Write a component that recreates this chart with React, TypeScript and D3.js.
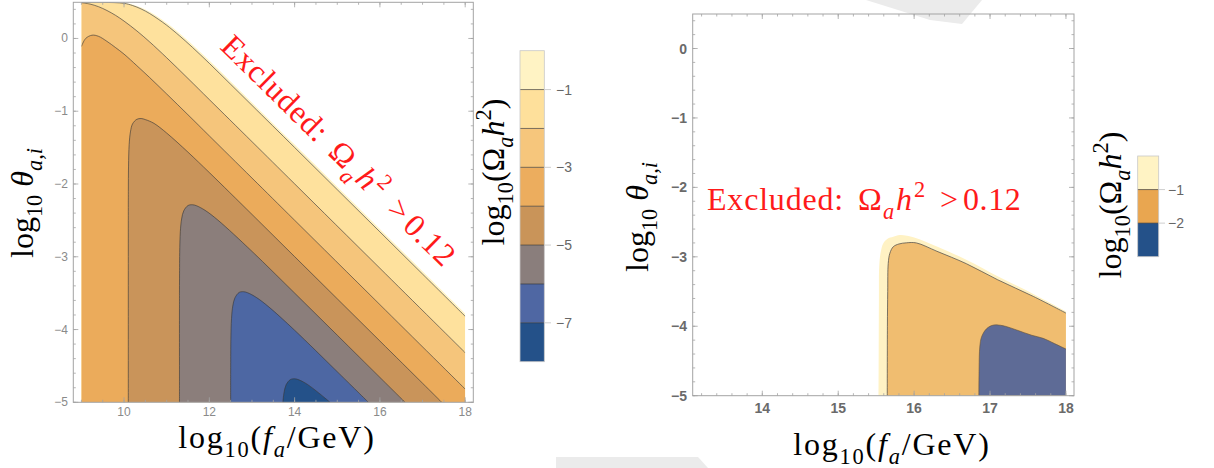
import React from 'react';
import * as d3 from 'd3';

type Pt = [number, number];

// ---------- Left panel: contour lines  [log10(fa/GeV), log10(theta_a,i)] ----------
const leftExcludedEdge: Pt[] = [[9,0.497],[9.5,0.4965],[10,0.489],[10.2,0.467],[10.4,0.424],[10.6,0.366],[10.8,0.295],[11,0.212],[11.3,0.072],[11.6,-0.083],[12,-0.304],[12.5,-0.59],[13,-0.879],[14,-1.458],[15,-2.038],[16,-2.618],[17,-3.198],[18,-3.778]];
const leftLevelM1: Pt[] = [[9,0.4968],[9.5,0.496],[10,0.483],[10.2,0.453],[10.4,0.406],[10.6,0.343],[10.8,0.266],[11,0.182],[11.3,0.037],[11.6,-0.12],[12,-0.342],[12.5,-0.63],[13,-0.919],[14,-1.498],[15,-2.078],[16,-2.658],[17,-3.238],[18,-3.818]];
const leftLevelM2: Pt[] = [[9,0.492],[9.2,0.473],[9.4,0.437],[9.6,0.384],[9.8,0.318],[10,0.239],[10.3,0.104],[10.6,-0.047],[11,-0.265],[11.5,-0.55],[12,-0.84],[13,-1.418],[14,-1.998],[16,-3.158],[18,-4.318]];
const leftLevelM3: Pt[] = [[9,-0.11],[9.1,0.0],[9.25,0.045],[9.4,0.03],[9.6,-0.04],[9.8,-0.125],[10,-0.215],[10.3,-0.374],[10.6,-0.537],[11,-0.763],[11.5,-1.049],[12,-1.339],[13,-1.918],[14,-2.498],[16,-3.658],[18,-4.818]];
const leftLevelM4: Pt[] = [[10.1,-5],[10.1,-2.5],[10.101,-2.1],[10.105,-1.754],[10.12,-1.46],[10.15,-1.284],[10.2,-1.173],[10.3,-1.111],[10.4,-1.1],[10.5,-1.115],[10.7,-1.166],[11,-1.3],[11.5,-1.563],[12,-1.843],[13,-2.418],[14,-2.998],[15,-3.578],[16,-4.158],[17,-4.738],[17.45,-5]];
const leftLevelM5: Pt[] = [[11.3,-5],[11.3,-3.5],[11.302,-3.15],[11.305,-2.944],[11.32,-2.655],[11.35,-2.48],[11.4,-2.369],[11.5,-2.296],[11.6,-2.285],[11.7,-2.299],[11.9,-2.362],[12.2,-2.496],[13,-2.926],[14,-3.499],[15,-4.078],[16,-4.658],[16.59,-5]];
const leftLevelM6: Pt[] = [[12.5,-5],[12.5,-4.6],[12.501,-4.49],[12.505,-4.14],[12.52,-3.851],[12.55,-3.676],[12.6,-3.565],[12.7,-3.49],[12.8,-3.48],[12.9,-3.495],[13.1,-3.558],[13.4,-3.692],[14,-4.01],[15,-4.58],[15.73,-5]];
const leftLevelM7: Pt[] = [[13.725,-5],[13.735,-4.938],[13.75,-4.872],[13.8,-4.76],[13.9,-4.688],[14,-4.677],[14.1,-4.691],[14.3,-4.754],[14.6,-4.888],[14.83,-5]];

const leftBandColors = ['#FFF3C4', '#FEE19D', '#F5C57B', '#EBAB5B', '#C9945A', '#8B7E7B', '#4D67A3', '#245189'];
const leftLegendColors = ['#FFF3C4', '#FEE09B', '#F6C67C', '#ECAD5E', '#C99459', '#8A7E7C', '#4F67A3', '#245189'];
const leftLegendTicks = [-1, -3, -5, -7];
const leftXTicks = [10, 12, 14, 16, 18];
const leftYTicks = [0, -1, -2, -3, -4, -5];

// ---------- Right panel ----------
const rightPaleEdge: Pt[] = [[15.533,-5],[15.536,-3.6],[15.54,-3.14],[15.56,-2.93],[15.593,-2.807],[15.65,-2.74],[15.725,-2.711],[15.813,-2.687],[16.0,-2.72],[16.3,-2.85],[16.7,-3.05],[17.1,-3.28],[17.57,-3.535],[18,-3.785]];
const rightLevelM1: Pt[] = [[15.646,-5],[15.648,-4],[15.652,-3.5],[15.659,-3.094],[15.68,-2.95],[15.725,-2.855],[15.8,-2.815],[15.9,-2.798],[16.03,-2.8],[16.3,-2.92],[16.69,-3.1],[17.1,-3.33],[17.57,-3.57],[18,-3.81]];
const rightLevelM2: Pt[] = [[16.853,-5],[16.856,-4.6],[16.865,-4.3],[16.889,-4.151],[16.95,-4.04],[17.02,-3.99],[17.087,-3.98],[17.2,-4.0],[17.35,-4.054],[17.55,-4.13],[17.7,-4.174],[17.85,-4.25],[18,-4.328]];
const rightFillColors = ['#FFF2C4', '#F0BD70', '#5E6B96'];
const rightLegendColors = ['#FFF3C4', '#E9A650', '#245189'];
const rightLegendTicks = [-1, -2];
const rightXTicks = [14, 15, 16, 17, 18];
const rightYTicks = [0, -1, -2, -3, -4, -5];

const serif = "'Liberation Serif','DejaVu Serif','Times New Roman',serif";
const sans = "'Liberation Sans',Arial,'DejaVu Sans',sans-serif";
const minus = (v: number) => (v < 0 ? '\u2212' + Math.abs(v) : String(v));

type Seg = { t: string; k?: 'n' | 'i' | 'sub' | 'subi' | 'sup'; x?: number; ls?: number };

function MathText(props: { x?: number; y?: number; size: number; segs: Seg[]; anchor?: string; fill?: string; ls?: number }) {
  const { x = 0, y = 0, size, segs, anchor = 'start', fill = '#000', ls } = props;
  let shift = 0;
  return (
    <text x={x} y={y} fontSize={size} fontFamily={serif} fill={fill} textAnchor={anchor as any} letterSpacing={ls}>
      {segs.map((s, i) => {
        const k = s.k ?? 'n';
        const small = k === 'sub' || k === 'subi' || k === 'sup';
        const target = k === 'sub' || k === 'subi' ? size * 0.28 : k === 'sup' ? -size * 0.42 : 0;
        const dy = target - shift;
        shift = target;
        return (
          <tspan key={i} x={s.x} dy={dy !== 0 ? dy : undefined} fontSize={small ? size * 0.7 : size}
            letterSpacing={s.ls} fontStyle={k === 'i' || k === 'subi' ? 'italic' : 'normal'}>{s.t}</tspan>
        );
      })}
    </text>
  );
}

const faTitle: Seg[] = [{ t: 'log' }, { t: '10', k: 'sub' }, { t: '(' }, { t: 'f', k: 'i' }, { t: 'a', k: 'subi' }, { t: '/GeV)' }];
const thetaTitle: Seg[] = [{ t: 'log' }, { t: '10', k: 'sub' }, { t: '\u00a0' }, { t: '\u03b8', k: 'i' }, { t: 'a,i', k: 'subi' }];
const omegaTitle: Seg[] = [{ t: 'log' }, { t: '10', k: 'sub' }, { t: '(\u03a9' }, { t: 'a', k: 'subi' }, { t: 'h', k: 'i' }, { t: '2', k: 'sup' }, { t: ')' }];
const excludedSegs: Seg[] = [
  { t: 'Excluded:', x: 0, ls: 0.8 }, { t: '\u03a9', x: 151 }, { t: 'a', k: 'subi', x: 176 }, { t: 'h', k: 'i', x: 189 },
  { t: '2', k: 'sup', x: 207 }, { t: '>', x: 233 }, { t: '0.12', x: 256, ls: 0.6 },
];

function Frame(props: { xs: any; ys: any; xMajor: number[]; xMinor: number[]; yMajor: number[]; yMinor: number[] }) {
  const { xs, ys, xMajor, xMinor, yMajor, yMinor } = props;
  const [x0, x1] = xs.range();
  const [y0, y1] = ys.range(); // y0 bottom, y1 top
  const c = '#a3a3a3';
  const els: React.ReactNode[] = [];
  const vt = (v: number, len: number, key: string) => {
    const px = xs(v);
    els.push(<line key={key + 'b'} x1={px} x2={px} y1={y0} y2={y0 - len} stroke={c} strokeWidth={0.8} />);
    els.push(<line key={key + 't'} x1={px} x2={px} y1={y1} y2={y1 + len} stroke={c} strokeWidth={0.8} />);
  };
  const ht = (v: number, len: number, key: string) => {
    const py = ys(v);
    els.push(<line key={key + 'l'} x1={x0} x2={x0 + len} y1={py} y2={py} stroke={c} strokeWidth={0.8} />);
    els.push(<line key={key + 'r'} x1={x1} x2={x1 - len} y1={py} y2={py} stroke={c} strokeWidth={0.8} />);
  };
  xMinor.forEach((v, i) => vt(v, 2.5, 'xm' + i));
  xMajor.forEach((v, i) => vt(v, 5, 'xM' + i));
  yMinor.forEach((v, i) => ht(v, 2.5, 'ym' + i));
  yMajor.forEach((v, i) => ht(v, 5, 'yM' + i));
  return (
    <g>
      {els}
      <rect x={x0} y={y1} width={x1 - x0} height={y0 - y1} fill="none" stroke={c} strokeWidth={1} />
    </g>
  );
}

export default function App() {
  // ----- left panel scales -----
  const lx = d3.scaleLinear().domain([8.81, 18.19]).range([73.3, 473.3]);
  const ly = d3.scaleLinear().domain([-5, 0.497]).range([402.3, 2.3]);
  const lLine = d3.line<Pt>().x(d => lx(d[0])).y(d => ly(d[1])).curve(d3.curveCatmullRom.alpha(0.5));
  const edgeArea = (pts: Pt[]) => (lLine(pts) as string) + `L${lx(18)},${ly(-5)}L${lx(9)},${ly(-5)}Z`;
  const closedArea = (pts: Pt[]) => (lLine(pts) as string) + 'Z';

  const leftEdgeCurves = [leftExcludedEdge, leftLevelM1, leftLevelM2, leftLevelM3];
  const leftClosedCurves = [leftLevelM4, leftLevelM5, leftLevelM6, leftLevelM7];
  const leftLines = [leftLevelM1, leftLevelM2, leftLevelM3, leftLevelM4, leftLevelM5, leftLevelM6, leftLevelM7];

  // ----- right panel scales -----
  const rx = d3.scaleLinear().domain([13.083, 18.106]).range([692.7, 1074]);
  const ry = d3.scaleLinear().domain([-5, 0.497]).range([395.7, 14]);
  const rLine = d3.line<Pt>().x(d => rx(d[0])).y(d => ry(d[1])).curve(d3.curveCatmullRom.alpha(0.5));
  const rArea = (pts: Pt[]) => (rLine(pts) as string) + `L${rx(18)},${ry(-5)}Z`;

  // ----- legends -----
  const lLeg = d3.scaleLinear().domain([0, -8]).range([50.7, 361.7]);
  const rLeg = d3.scaleLinear().domain([0, -3]).range([156, 256.7]);

  const range = (a: number, b: number, s: number) => d3.range(Math.round(a / s), Math.round(b / s) + 1).map(k => +(k * s).toFixed(4));

  return (
    <svg width={1214} height={468} style={{ position: 'absolute', left: 0, top: 0, background: '#fff' }}
      xmlns="http://www.w3.org/2000/svg">
      <defs>
        <clipPath id="clipL"><rect x={lx(9)} y={ly(0.497)} width={lx(18) - lx(9)} height={ly(-5) - ly(0.497)} /></clipPath>
        <clipPath id="clipR"><rect x={rx(13.2)} y={ry(0.497)} width={rx(18) - rx(13.2)} height={ry(-5) - ry(0.497)} /></clipPath>
      </defs>

      {/* screenshot artifacts (light grey shapes) */}
      <path d="M866,0 L982,0 L962,24 L930,20 Z" fill="#ebebeb" />
      <path d="M556,457 L698,457 L708,468 L556,468 Z" fill="#ebebeb" />

      {/* ===== Left panel ===== */}
      <g clipPath="url(#clipL)">
        {leftEdgeCurves.map((c, i) => <path key={'le' + i} d={edgeArea(c)} fill={leftBandColors[i]} />)}
        {leftClosedCurves.map((c, i) => <path key={'lc' + i} d={closedArea(c)} fill={leftBandColors[i + 4]} />)}
        {leftLines.map((c, i) => <path key={'ll' + i} d={lLine(c) as string} fill="none" stroke="#3a3a3a" strokeOpacity={0.7} strokeWidth={0.9} />)}
      </g>
      <Frame xs={lx} ys={ly} xMajor={leftXTicks} xMinor={range(9, 18, 0.5)} yMajor={leftYTicks} yMinor={range(-5, 0.4, 0.2)} />
      {leftYTicks.map(v => (
        <text key={'lyt' + v} x={68} y={ly(v) + 4} fontSize={12} fontFamily={sans} fill="#8a8a8a" textAnchor="end">{minus(v)}</text>
      ))}
      {leftXTicks.map(v => (
        <text key={'lxt' + v} x={lx(v)} y={415.5} fontSize={12} fontFamily={sans} fill="#8a8a8a" textAnchor="middle">{v}</text>
      ))}
      <MathText x={277} y={448} size={32} segs={faTitle} anchor="middle" ls={1.8} />
      <g transform="translate(33,203) rotate(-90)"><MathText size={32} segs={thetaTitle} anchor="middle" /></g>
      <g transform="translate(219,48) rotate(44.5)"><MathText size={32} segs={excludedSegs} fill="#ff1a1a" /></g>

      {/* Left legend */}
      {leftLegendColors.map((c, i) => (
        <rect key={'lg' + i} x={520} y={lLeg(-i)} width={24.3} height={lLeg(-i - 1) - lLeg(-i)} fill={c} />
      ))}
      {d3.range(1, 8).map(i => (
        <line key={'lgl' + i} x1={520} x2={544.3} y1={lLeg(-i)} y2={lLeg(-i)} stroke="#333" strokeOpacity={0.65} strokeWidth={1} />
      ))}
      <rect x={520} y={lLeg(0)} width={24.3} height={lLeg(-8) - lLeg(0)} fill="none" stroke="#c8c8c8" strokeWidth={0.8} />
      {leftLegendTicks.map(v => (
        <g key={'lgt' + v}>
          <line x1={544.3} x2={551} y1={lLeg(v)} y2={lLeg(v)} stroke="#cfcfcf" strokeWidth={1} />
          <text x={556} y={lLeg(v) + 5} fontSize={14} fontFamily={sans} fill="#666">{minus(v)}</text>
        </g>
      ))}
      <g transform="translate(504,172) rotate(-90)"><MathText size={32} segs={omegaTitle} anchor="middle" /></g>

      {/* ===== Right panel ===== */}
      <g clipPath="url(#clipR)">
        <path d={rArea(rightPaleEdge)} fill={rightFillColors[0]} />
        <path d={rArea(rightLevelM1)} fill={rightFillColors[1]} />
        <path d={rArea(rightLevelM2)} fill={rightFillColors[2]} />
        <path d={rLine(rightLevelM1) as string} fill="none" stroke="#4a4a4a" strokeOpacity={0.8} strokeWidth={0.9} />
        <path d={rLine(rightLevelM2) as string} fill="none" stroke="#6a5638" strokeOpacity={0.7} strokeWidth={0.9} />
      </g>
      <Frame xs={rx} ys={ry} xMajor={rightXTicks} xMinor={range(13.2, 18, 0.2)} yMajor={rightYTicks} yMinor={range(-5, 0.4, 0.2)} />
      {rightYTicks.map(v => (
        <text key={'ryt' + v} x={687} y={ry(v) + 5} fontSize={14} fontWeight="bold" fontFamily={sans} fill="#6a6a6a" textAnchor="end">{minus(v)}</text>
      ))}
      {rightXTicks.map(v => (
        <text key={'rxt' + v} x={rx(v)} y={413} fontSize={14} fontWeight="bold" fontFamily={sans} fill="#6a6a6a" textAnchor="middle">{v}</text>
      ))}
      <MathText x={892} y={455} size={32} segs={faTitle} anchor="middle" ls={1.8} />
      <g transform="translate(648,217) rotate(-90)"><MathText size={32} segs={thetaTitle} anchor="middle" /></g>
      <g transform="translate(707,210)"><MathText size={32} segs={excludedSegs} fill="#ff1a1a" /></g>

      {/* Right legend */}
      {rightLegendColors.map((c, i) => (
        <rect key={'rg' + i} x={1137.7} y={rLeg(-i)} width={21} height={rLeg(-i - 1) - rLeg(-i)} fill={c} />
      ))}
      {rightLegendTicks.map(v => (
        <line key={'rgl' + v} x1={1137.7} x2={1158.7} y1={rLeg(v)} y2={rLeg(v)} stroke="#333" strokeOpacity={0.65} strokeWidth={1} />
      ))}
      <rect x={1137.7} y={rLeg(0)} width={21} height={rLeg(-3) - rLeg(0)} fill="none" stroke="#c8c8c8" strokeWidth={0.8} />
      {rightLegendTicks.map(v => (
        <g key={'rgt' + v}>
          <line x1={1158.7} x2={1165} y1={rLeg(v)} y2={rLeg(v)} stroke="#cfcfcf" strokeWidth={1} />
          <text x={1168} y={rLeg(v) + 5} fontSize={14} fontFamily={sans} fill="#666">{minus(v)}</text>
        </g>
      ))}
      <g transform="translate(1121,205) rotate(-90)"><MathText size={32} segs={omegaTitle} anchor="middle" /></g>
    </svg>
  );
}
